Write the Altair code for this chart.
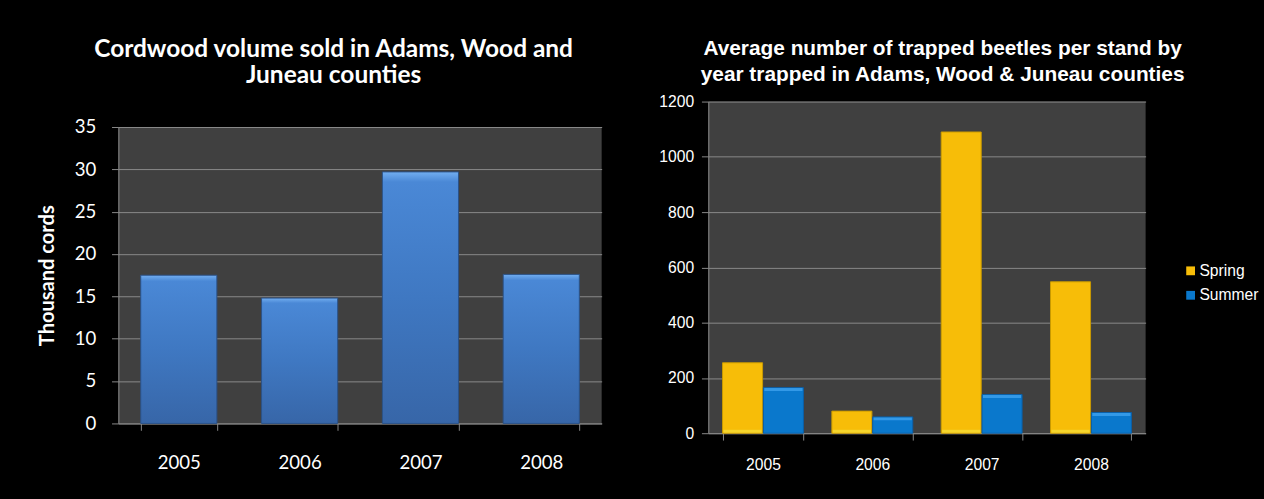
import altair as alt
import pandas as pd

# ---- data ----
years = ["2005", "2006", "2007", "2008"]
cordwood = [17.5, 14.8, 29.7, 17.6]          # thousand cords
seasons = ["Spring", "Summer"]
spring = [255, 80, 1090, 548]                 # avg trapped beetles per stand
summer = [165, 59, 140, 75]
left_ticks = [0, 5, 10, 15, 20, 25, 30, 35]
right_ticks = [0, 200, 400, 600, 800, 1000, 1200]

df1 = pd.DataFrame({"year": years, "cords": cordwood})
df2 = pd.DataFrame({
    "year": years * 2,
    "season": [seasons[0]] * 4 + [seasons[1]] * 4,
    "beetles": spring + summer,
})

GRID = "#8a8a8a"
AXIS = "#8a8a8a"

blue_grad = alt.Gradient(
    gradient="linear",
    stops=[
        alt.GradientStop(color="#72aef0", offset=0),
        alt.GradientStop(color="#4a88d6", offset=0.04),
        alt.GradientStop(color="#3f78c2", offset=0.5),
        alt.GradientStop(color="#3766a8", offset=1),
    ],
    x1=0, x2=0, y1=0, y2=1,
)

left = alt.Chart(
    df1,
    title=alt.TitleParams(
        ["Cordwood volume sold in Adams, Wood and", "Juneau counties"],
        font="Lato", fontSize=25, fontWeight="bold", color="white",
        anchor="middle", lineHeight=27, offset=31, dx=-27,
    ),
).mark_bar(color=blue_grad, stroke="#2b5288", strokeWidth=1).encode(
    x=alt.X(
        "year:N", title=None, sort=years,
        scale=alt.Scale(paddingInner=0.37, paddingOuter=0.185),
        axis=alt.Axis(
            labelAngle=0, labelFont="Lato", labelFontSize=19, labelColor="white",
            labelPadding=24, tickBand="extent", tickSize=7, tickColor=AXIS,
            domainColor=AXIS, grid=False,
        ),
    ),
    y=alt.Y(
        "cords:Q", title="Thousand cords",
        scale=alt.Scale(domain=[0, 35]),
        axis=alt.Axis(
            values=left_ticks, labelFont="Lato", labelFontSize=19, labelColor="white",
            labelPadding=16, tickSize=7, tickColor=AXIS, domainColor=AXIS,
            gridColor=GRID, titleFont="Lato", titleFontSize=20.5, titleFontWeight="bold",
            titleColor="white", titlePadding=17,
        ),
    ),
).properties(width=494, height=303)

x_right = alt.X(
    "year:N", title=".", sort=years,
    scale=alt.Scale(paddingInner=0.26, paddingOuter=0.13),
    axis=alt.Axis(
        labelAngle=0, labelFont="Liberation Sans", labelFontSize=16, labelColor="white",
        labelPadding=17, tickBand="extent", tickSize=7, tickColor=AXIS,
        domainColor=AXIS, grid=False,
        titleColor="black", titleFontSize=13, titlePadding=13,
    ),
)
xoff_right = alt.XOffset("season:N", sort=seasons, scale=alt.Scale(domain=seasons, paddingInner=0.02))
y_right = alt.Y(
    "beetles:Q", title=None,
    scale=alt.Scale(domain=[0, 1200]),
    axis=alt.Axis(
        values=right_ticks, format="d", labelFont="Liberation Sans", labelFontSize=16,
        labelColor="white", labelPadding=8, tickSize=7, tickColor=AXIS,
        domainColor=AXIS, gridColor=GRID,
    ),
)

bars = alt.Chart(df2).mark_bar(strokeWidth=1).encode(
    x=x_right,
    xOffset=xoff_right,
    y=y_right,
    color=alt.Color(
        "season:N", sort=seasons,
        scale=alt.Scale(domain=seasons, range=["#f7bd08", "#0a78cc"]),
        legend=alt.Legend(
            title=None, orient="none", legendX=1088, legendY=165,
            symbolType="square", symbolSize=81, symbolStrokeWidth=0,
            labelFont="Liberation Sans", labelFontSize=16, labelColor="white",
            rowPadding=9, labelOffset=1,
        ),
    ),
    stroke=alt.Stroke(
        "season:N", sort=seasons, legend=None,
        scale=alt.Scale(domain=seasons, range=["#c99a00", "#0a5fa8"]),
    ),
)

# bevel highlights: light top edge on Summer bars, bright base strip on Spring bars
summer_edge = alt.Chart(df2).transform_filter(
    alt.datum.season == "Summer"
).mark_tick(size=39, thickness=3, color="#45a6f2", orient="horizontal").encode(
    x=x_right, xOffset=xoff_right, y=y_right, yOffset=alt.value(2),
)
spring_base = alt.Chart(df2).transform_filter(
    alt.datum.season == "Spring"
).mark_tick(size=39, thickness=3, color="#f4e03c", orient="horizontal").encode(
    x=x_right, xOffset=xoff_right, y=alt.datum(0), yOffset=alt.value(-2),
)

right = alt.layer(bars, summer_edge, spring_base).properties(
    width=447, height=339,
    title=alt.TitleParams(
        ["Average number of  trapped beetles per stand by",
         "year trapped in Adams, Wood & Juneau counties"],
        font="Liberation Sans", fontSize=21.3, fontWeight="bold", color="white",
        anchor="middle", lineHeight=26, offset=9, dx=16,
    ),
)

chart = alt.hconcat(left, right, spacing=58, center=True).properties(
    background="black",
    padding={"left": 38, "top": 32, "right": 5, "bottom": 23},
).configure_view(fill="#404040", stroke=None)

chart.save("out.html", embed_options={"renderer": "svg", "actions": False})
